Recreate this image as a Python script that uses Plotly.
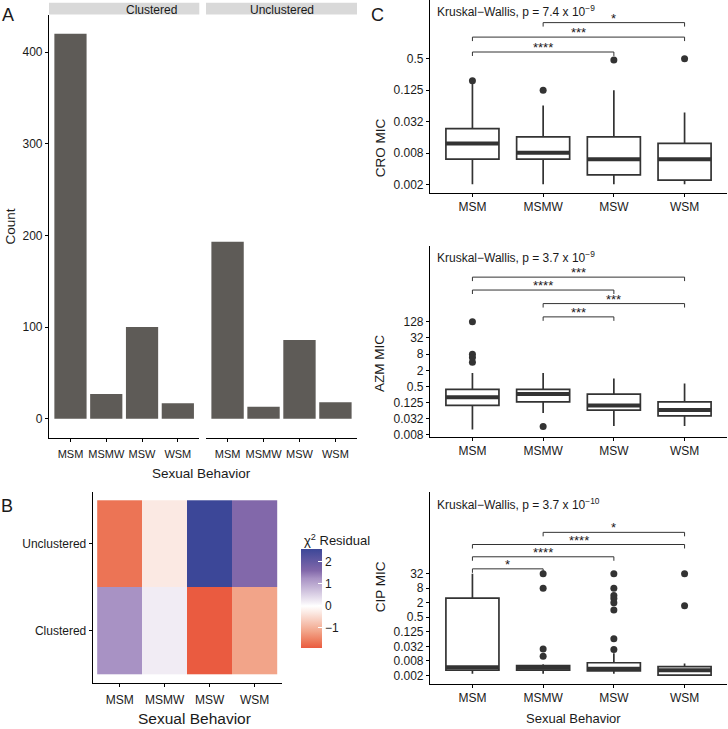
import math
import plotly.graph_objects as go

W, H = 728, 729
def px(x): return x / W
def py(y): return 1 - y / H

# ---------------- data ----------------
categories = ["MSM", "MSMW", "MSW", "WSM"]
clusters = ["Clustered", "Unclustered"]
count_clustered = [420, 27, 100, 17]
count_unclustered = [193, 13, 86, 18]

residual_clustered = [1.25, 0.2, -1.9, -1.15]
residual_unclustered = [-1.65, -0.3, 2.58, 1.6]

# CRO MIC box statistics
cro_lower = [0.002, 0.002, 0.002, 0.002]
cro_q1 = [0.006, 0.006, 0.003, 0.0024]
cro_median = [0.012, 0.008, 0.006, 0.006]
cro_q3 = [0.023, 0.016, 0.016, 0.012]
cro_upper = [0.17, 0.064, 0.125, 0.047]
cro_outliers = [[0.19], [0.125], [0.47], [0.5]]
cro_pvalue = "Kruskal−Wallis, p = 7.4 x 10<sup>−9</sup>"
cro_brackets = [("MSMW", "WSM", "*", 2.44), ("MSM", "WSM", "***", 1.29), ("MSM", "MSW", "****", 0.67)]

# AZM MIC box statistics
azm_lower = [0.0126, 0.051, 0.0167, 0.0167]
azm_q1 = [0.098, 0.133, 0.066, 0.040]
azm_median = [0.20, 0.26, 0.098, 0.067]
azm_q3 = [0.39, 0.39, 0.26, 0.133]
azm_upper = [1.57, 1.57, 1.0, 0.65]
azm_outliers = [[128, 8, 6, 4], [0.0163], [], []]
azm_pvalue = "Kruskal−Wallis, p = 3.7 x 10<sup>−9</sup>"
azm_brackets = [("MSM", "WSM", "***", 5900), ("MSM", "MSW", "****", 1950),
                ("MSMW", "WSM", "***", 610), ("MSMW", "MSW", "***", 195)]

# CIP MIC box statistics
cip_lower = [0.0023, 0.0023, 0.0023, 0.002]
cip_q1 = [0.0032, 0.0032, 0.003, 0.002]
cip_median = [0.0042, 0.004, 0.0037, 0.0032]
cip_q3 = [3.1, 0.005, 0.0065, 0.0045]
cip_upper = [32, 0.0057, 0.016, 0.006]
cip_outliers = [[], [32, 8, 0.024, 0.012], [32, 8, 4, 3, 2, 1, 0.064, 0.023], [32, 1.5]]
cip_pvalue = "Kruskal−Wallis, p = 3.7 x 10<sup>−10</sup>"
cip_brackets = [("MSMW", "WSM", "*", 1660), ("MSM", "WSM", "****", 520),
                ("MSM", "MSW", "****", 161), ("MSM", "MSMW", "*", 51)]

cro_ticks = [0.5, 0.125, 0.03125, 0.0078125, 0.001953125]
cro_ticktext = ["0.5", "0.125", "0.032", "0.008", "0.002"]
azm_ticks = [128, 32, 8, 2, 0.5, 0.125, 0.03125, 0.0078125]
azm_ticktext = ["128", "32", "8", "2", "0.5", "0.125", "0.032", "0.008"]
cip_ticks = [32, 8, 2, 0.5, 0.125, 0.03125, 0.0078125, 0.001953125]
cip_ticktext = ["32", "8", "2", "0.5", "0.125", "0.032", "0.008", "0.002"]

# ---------------- style ----------------
FONT = "Liberation Sans, Arial, Helvetica, sans-serif"
TXT = "#1a1a1a"
BAR = "#5e5b57"
BOXLINE = "#333333"
TSHIFT = -4  # vertical nudge for paper annotations
pos = [1, 2, 3, 4]

# colour anchors (value, colour) for the residual scale
anchor_vals = [-1.9, -1.65, -1.15, -0.3, 0.0, 0.2, 1.25, 1.6, 2.58]
anchor_cols = ["#ea5b40", "#ec7455", "#f2a489", "#fbe9e3", "#ffffff",
               "#f1ecf4", "#a892c4", "#8268aa", "#3c4798"]
zmin, zmax = anchor_vals[0], anchor_vals[-1]
colorscale = [[(v - zmin) / (zmax - zmin), c] for v, c in zip(anchor_vals, anchor_cols)]

fig = go.Figure()

# ---------------- panel A ----------------
fig.add_trace(go.Bar(x=pos, y=count_clustered, width=0.9, marker=dict(color=BAR, line=dict(width=0)),
                     xaxis="x", yaxis="y", showlegend=False))
fig.add_trace(go.Bar(x=pos, y=count_unclustered, width=0.9, marker=dict(color=BAR, line=dict(width=0)),
                     xaxis="x2", yaxis="y", showlegend=False))

# ---------------- panel B ----------------
fig.add_trace(go.Heatmap(
    z=[residual_clustered, residual_unclustered], x=pos, y=[1, 2],
    zmin=zmin, zmax=zmax, colorscale=colorscale, xaxis="x3", yaxis="y3",
    colorbar=dict(x=px(301), xanchor="left", y=py(602.5), yanchor="middle",
                  len=99, lenmode="pixels", thickness=21, thicknessmode="pixels",
                  xpad=0, ypad=0, outlinewidth=0,
                  tickvals=[-1, 0, 1, 2], ticktext=["−1", "0", "1", "2"],
                  ticks="inside", tickcolor="white", ticklen=4, tickwidth=1,
                  tickfont=dict(size=12, color=TXT, family=FONT)),
    showscale=True))

# ---------------- panel C ----------------
panels = [
    dict(ax=("x4", "y4"), lower=cro_lower, q1=cro_q1, med=cro_median, q3=cro_q3, upper=cro_upper,
         out=cro_outliers, br=cro_brackets, log2range=(-9.505, 2.722), dom=(0, 194),
         ticks=cro_ticks, tt=cro_ticktext, p=cro_pvalue, py_p=7, title="CRO MIC", ty=117.5),
    dict(ax=("x5", "y5"), lower=azm_lower, q1=azm_q1, med=azm_median, q3=azm_q3, upper=azm_upper,
         out=azm_outliers, br=azm_brackets, log2range=(-7.25, 16.34), dom=(248, 440),
         ticks=azm_ticks, tt=azm_ticktext, p=azm_pvalue, py_p=255, title="AZM MIC", ty=366.5),
    dict(ax=("x6", "y6"), lower=cip_lower, q1=cip_q1, med=cip_median, q3=cip_q3, upper=cip_upper,
         out=cip_outliers, br=cip_brackets, log2range=(-10.13, 16.31), dom=(495, 688.3),
         ticks=cip_ticks, tt=cip_ticktext, p=cip_pvalue, py_p=503, title="CIP MIC", ty=619),
]

annotations = []
layout_axes = {}
BOXW = 0.75
for i, pnl in enumerate(panels):
    xa, ya = pnl["ax"]
    fig.add_trace(go.Box(x=pos, q1=pnl["q1"], median=pnl["med"], q3=pnl["q3"],
                         lowerfence=pnl["lower"], upperfence=pnl["upper"],
                         width=BOXW, whiskerwidth=0, boxpoints=False,
                         fillcolor="white", line=dict(color=BOXLINE, width=1.7),
                         xaxis=xa, yaxis=ya, showlegend=False, hoverinfo="skip"))
    mx, my = [], []
    for c, m in zip(pos, pnl["med"]):
        mx += [c - BOXW / 2, c + BOXW / 2, None]
        my += [m, m, None]
    fig.add_trace(go.Scatter(x=mx, y=my, mode="lines", line=dict(color=BOXLINE, width=4),
                             xaxis=xa, yaxis=ya, showlegend=False, hoverinfo="skip"))
    ox, oy = [], []
    for c, vals in zip(pos, pnl["out"]):
        ox += [c] * len(vals)
        oy += vals
    fig.add_trace(go.Scatter(x=ox, y=oy, mode="markers", marker=dict(color=BOXLINE, size=7),
                             xaxis=xa, yaxis=ya, showlegend=False, hoverinfo="skip"))
    lo10 = pnl["log2range"][0] * math.log10(2)
    hi10 = pnl["log2range"][1] * math.log10(2)
    dom_px = pnl["dom"][1] - pnl["dom"][0]
    tipf = 10 ** (4 * (hi10 - lo10) / dom_px)
    bx, by = [], []
    for a, b, lab, lvl in pnl["br"]:
        xa_i = categories.index(a) + 1
        xb_i = categories.index(b) + 1
        bx += [xa_i, xa_i, xb_i, xb_i, None]
        by += [lvl / tipf, lvl, lvl, lvl / tipf, None]
        annotations.append(dict(x=(xa_i + xb_i) / 2, y=math.log10(lvl), xref=xa, yref=ya,
                                text=lab, showarrow=False, yanchor="bottom", yshift=-5,
                                font=dict(size=13, color=TXT, family=FONT)))
    fig.add_trace(go.Scatter(x=bx, y=by, mode="lines", line=dict(color=BOXLINE, width=1),
                             xaxis=xa, yaxis=ya, showlegend=False, hoverinfo="skip"))
    n = str(4 + i)
    layout_axes["xaxis" + n] = dict(domain=[px(430), px(727)], range=[0.4, 4.6], anchor="y" + n,
                                    tickvals=pos, ticktext=categories)
    layout_axes["yaxis" + n] = dict(domain=[py(pnl["dom"][1]), py(pnl["dom"][0])], type="log",
                                    range=[lo10, hi10], anchor="x" + n,
                                    tickvals=pnl["ticks"], ticktext=pnl["tt"])
    annotations.append(dict(x=px(435), y=py(pnl["py_p"]), xref="paper", yref="paper",
                            xanchor="left", yanchor="middle", text=pnl["p"], showarrow=False,
                            yshift=TSHIFT, font=dict(size=12, color=TXT, family=FONT)))
    annotations.append(dict(x=px(380), y=py(pnl["ty"]), xref="paper", yref="paper",
                            text=pnl["title"], textangle=-90, showarrow=False,
                            font=dict(size=13.5, color=TXT, family=FONT)))

common_axis = dict(showline=True, linecolor="black", linewidth=1.1, ticks="outside", ticklen=3,
                   tickcolor="black", tickwidth=1, showgrid=False, zeroline=False, fixedrange=True,
                   tickfont=dict(size=12, color=TXT, family=FONT))

layout = dict(
    width=W, height=H, autosize=False, margin=dict(l=0, r=0, t=0, b=0),
    paper_bgcolor="white", plot_bgcolor="white", showlegend=False,
    font=dict(family=FONT, color=TXT),
    xaxis=dict(domain=[px(49), px(199.3)], range=[0.4, 4.6], anchor="y", tickvals=pos,
               ticktext=categories, ticklabelstandoff=3),
    xaxis2=dict(domain=[px(206), px(357)], range=[0.4, 4.6], anchor="y", tickvals=pos,
                ticktext=categories, ticklabelstandoff=3),
    yaxis=dict(domain=[py(441), py(14.7)], range=[-21, 441], anchor="x", tickvals=[0, 100, 200, 300, 400]),
    xaxis3=dict(domain=[px(92.7), px(281.7)], range=[0.4, 4.6], anchor="y3", tickvals=pos,
                ticktext=categories, ticklabelstandoff=3),
    yaxis3=dict(domain=[py(687.3), py(495)], range=[0.4, 2.6], anchor="x3", tickvals=[1, 2], ticktext=clusters),
)
layout.update(layout_axes)
for k in list(layout.keys()):
    if k.startswith("xaxis") or k.startswith("yaxis"):
        d = dict(common_axis)
        d.update(layout[k])
        layout[k] = d
layout["xaxis"]["tickfont"] = dict(size=11, color=TXT, family=FONT)
layout["xaxis2"]["tickfont"] = dict(size=11, color=TXT, family=FONT)

# strips for panel A
shapes = []
for x0, x1, lab in [(49, 199.3, clusters[0]), (206, 357, clusters[1])]:
    shapes.append(dict(type="rect", xref="paper", yref="paper", x0=px(x0), x1=px(x1),
                       y0=py(14.7), y1=py(2.7), fillcolor="#d9d9d9", line=dict(width=0), layer="below"))
    annotations.append(dict(x=px((x0 + x1) / 2), y=py(8.7), xref="paper", yref="paper", text=lab,
                            showarrow=False, yanchor="middle", yshift=-1,
                            font=dict(size=12, color=TXT, family=FONT)))

# titles and panel letters
def txt(x, y, t, size, angle=0, xanchor="center", shift=TSHIFT):
    annotations.append(dict(x=px(x), y=py(y), xref="paper", yref="paper", text=t, showarrow=False,
                            xanchor=xanchor, yanchor="middle", textangle=angle, yshift=shift,
                            font=dict(size=size, color=TXT, family=FONT)))

txt(10, 228, "Count", 13.5, -90, shift=0)
txt(201, 473, "Sexual Behavior", 13.5)
txt(194.5, 719, "Sexual Behavior", 15.5)
txt(573, 719, "Sexual Behavior", 13)
txt(302, 540, "χ<sup>2</sup> Residual", 13, xanchor="left")
txt(7.5, 11, "A", 18)
txt(6.7, 505, "B", 18)
txt(377.5, 11, "C", 18)

layout["annotations"] = annotations
layout["shapes"] = shapes
fig.update_layout(**layout)
fig.write_html("out.html", config={"displayModeBar": False},
               post_script="document.body.style.margin='0';document.body.style.overflow='hidden';")
